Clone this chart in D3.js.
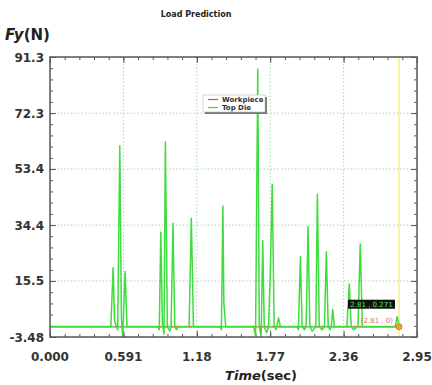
<!DOCTYPE html>
<html><head><meta charset="utf-8">
<script src="https://cdn.jsdelivr.net/npm/d3@7"></script>
<style>body{margin:0;background:#fff}svg{display:block}</style>
</head><body>
<script>
const title = "Load Prediction";
const xTickValues = [0, 0.591, 1.182, 1.773, 2.364, 2.955];
const xTickLabels = ["0.000", "0.591", "1.18", "1.77", "2.36", "2.95"];
const yTickValues = [-3.48, 15.5, 34.4, 53.4, 72.3, 91.3];
const yTickLabels = ["-3.48", "15.5", "34.4", "53.4", "72.3", "91.3"];
const seriesNames = ["Workpiece", "Top Die"];
const topDieTime = [0,0.47,0.49,0.508,0.52,0.545,0.562,0.575,0.585,0.605,0.62,
  0.87,0.88,0.892,0.905,0.918,0.929,0.945,0.965,0.975,0.99,1.005,1.02,1.03,
  1.12,1.138,1.155,1.37,1.38,1.392,1.40,1.415,
  1.64,1.655,1.673,1.685,1.70,1.713,1.725,1.745,1.76,1.775,1.789,1.805,1.82,1.84,1.855,
  1.99,2.0,2.016,2.03,2.05,2.062,2.078,2.092,2.11,2.14,2.153,2.168,2.19,2.21,2.225,2.24,2.255,2.265,2.276,2.29,
  2.39,2.41,2.425,2.445,2.48,2.498,2.515,2.78,2.795,2.81];
const topDieForce = [0,0,0,20,2,-1,61.3,3,-3.4,18.6,0,
  0,-1,32,1,-2.5,62.6,0,-1.5,0,35,0,-1,0,
  0,36.7,0,0,-1,40.9,8,0,
  0,-3,87.2,0,-3.4,29.1,0,-2,0,20,48.2,0,-1,3,0,
  0,-1,23.7,0,-1,0,33.9,0,-1.5,0,44.8,0,-1,0,25.4,0,-1,0,5.9,0,
  0,14.5,0,-1,0,28,0,0,3.4,0.271];
const workpieceStart = [0.47, 0.87, 1.12, 1.64, 1.99, 2.39];
const workpieceEnd   = [0.62, 1.03, 1.16, 1.86, 2.29, 2.52];
const cursorTime = 2.81, cursorForce = 0.271, cursorWork = 0;

const W = 432, H = 385;
const svg = d3.select("body").append("svg").attr("width", W).attr("height", H)
  .style("font-family", "'DejaVu Sans', sans-serif");
const L = 50, R = 417, T = 57, B = 337;
const x = d3.scaleLinear().domain([0, 2.955]).range([L, R]);
const y = d3.scaleLinear().domain([-3.48, 91.3]).range([B, T]);

// grid
const gridC = "#a8dca8";
svg.append("g").selectAll("line").data(xTickValues.slice(1, -1)).join("line")
  .attr("x1", d => x(d)).attr("x2", d => x(d)).attr("y1", T).attr("y2", B)
  .attr("stroke", gridC).attr("stroke-width", 1).attr("stroke-dasharray", "1.5,2");
svg.append("g").selectAll("line").data(yTickValues.slice(1, -1)).join("line")
  .attr("y1", d => y(d)).attr("y2", d => y(d)).attr("x1", L).attr("x2", R)
  .attr("stroke", gridC).attr("stroke-width", 1).attr("stroke-dasharray", "1.5,2");

// minor ticks
const xMinor = d3.range(0, 26).map(i => i * 2.955 / 25);
const yMinor = d3.range(0, 26).map(i => -3.48 + i * (91.3 + 3.48) / 25);
const tickC = "#555";
const axisG = svg.append("g");
axisG.append("g").call(d3.axisBottom(x).tickValues(xMinor).tickSize(-3).tickFormat(""))
  .attr("transform", `translate(0,${B})`);
axisG.append("g").call(d3.axisTop(x).tickValues(xMinor).tickSize(-3).tickFormat(""))
  .attr("transform", `translate(0,${T})`);
axisG.append("g").call(d3.axisLeft(y).tickValues(yMinor).tickSize(-3).tickFormat(""))
  .attr("transform", `translate(${L},0)`);
axisG.append("g").call(d3.axisRight(y).tickValues(yMinor).tickSize(-3).tickFormat(""))
  .attr("transform", `translate(${R},0)`);
axisG.append("g").call(d3.axisBottom(x).tickValues(xTickValues).tickSize(-6).tickFormat(""))
  .attr("transform", `translate(0,${B})`);
axisG.append("g").call(d3.axisTop(x).tickValues(xTickValues).tickSize(-6).tickFormat(""))
  .attr("transform", `translate(0,${T})`);
axisG.append("g").call(d3.axisLeft(y).tickValues(yTickValues).tickSize(-6).tickFormat(""))
  .attr("transform", `translate(${L},0)`);
axisG.append("g").call(d3.axisRight(y).tickValues(yTickValues).tickSize(-6).tickFormat(""))
  .attr("transform", `translate(${R},0)`);
axisG.selectAll(".domain").remove();
axisG.selectAll("line").attr("stroke", tickC).attr("stroke-width", 1);

// yellow cursor
svg.append("line").attr("x1", x(cursorTime)).attr("x2", x(cursorTime)).attr("y1", T).attr("y2", B)
  .attr("stroke", "#f2ea70").attr("stroke-width", 1.2);

// baseline (top die zero level)
svg.append("line").attr("x1", x(0)).attr("x2", x(cursorTime)).attr("y1", y(0)).attr("y2", y(0))
  .attr("stroke", "#6ade6a").attr("stroke-width", 2);

// workpiece
svg.append("g").selectAll("line").data(workpieceStart).join("line")
  .attr("x1", d => x(d)).attr("x2", (d, i) => x(workpieceEnd[i]))
  .attr("y1", y(0)).attr("y2", y(0))
  .attr("stroke", "#d2783c").attr("stroke-width", 1.2).attr("stroke-dasharray", "3,3");

// top die
const pts = topDieTime.map((t, i) => [t, topDieForce[i]]);
svg.append("path").datum(pts)
  .attr("d", d3.line().x(d => x(d[0])).y(d => y(d[1])))
  .attr("fill", "none").attr("stroke", "#3ddd3d").attr("stroke-width", 1.5)
  .attr("stroke-linejoin", "round");

// cursor marker
svg.append("circle").attr("cx", x(cursorTime)).attr("cy", y(cursorWork)).attr("r", 3)
  .attr("fill", "#f0a030").attr("stroke", "#e08020");

// tooltip
const tx = x(cursorTime), ty = y(0);
svg.append("rect").attr("x", tx - 51).attr("y", ty - 27).attr("width", 47).attr("height", 9)
  .attr("fill", "#111");
svg.append("text").attr("x", tx - 27.5).attr("y", ty - 20).attr("text-anchor", "middle")
  .attr("font-size", 7).attr("fill", "#5fe05f").text(`${cursorTime} , ${cursorForce}`);
svg.append("text").attr("x", tx - 6).attr("y", ty - 4).attr("text-anchor", "end")
  .attr("font-size", 7).attr("fill", "#e07070").text(`(${cursorTime} , ${cursorWork})`);

// frame
svg.append("rect").attr("x", L).attr("y", T).attr("width", R - L).attr("height", B - T)
  .attr("fill", "none").attr("stroke", "#555").attr("stroke-width", 1.5);

// legend
const lg = svg.append("g").attr("transform", "translate(203,95)");
lg.append("rect").attr("x", 2).attr("y", 2).attr("width", 62).attr("height", 17).attr("fill", "#777");
lg.append("rect").attr("x", 0).attr("y", 0).attr("width", 62).attr("height", 17)
  .attr("fill", "#fff").attr("stroke", "#bbb").attr("stroke-width", 0.6);
const legC = ["#dd4444", "#33dd33"];
seriesNames.forEach((n, i) => {
  lg.append("line").attr("x1", 5).attr("x2", 15).attr("y1", 4.5 + i * 8).attr("y2", 4.5 + i * 8)
    .attr("stroke", legC[i]).attr("stroke-width", 1.2);
  lg.append("text").attr("x", 19).attr("y", 7 + i * 8).attr("font-size", 7)
    .attr("font-weight", "bold").attr("fill", "#333").text(n);
});

// tick labels
svg.append("g").selectAll("text").data(xTickValues).join("text")
  .attr("x", d => x(d)).attr("y", 361).attr("text-anchor", "middle")
  .attr("font-size", 12).attr("font-weight", "bold").attr("fill", "#333")
  .text((d, i) => xTickLabels[i]);
svg.append("g").selectAll("text").data(yTickValues).join("text")
  .attr("x", 44).attr("y", d => y(d) + 4.5).attr("text-anchor", "end")
  .attr("font-size", 12).attr("font-weight", "bold").attr("fill", "#333")
  .text((d, i) => yTickLabels[i]);

// titles
svg.append("text").attr("x", 196).attr("y", 17).attr("text-anchor", "middle")
  .attr("font-size", 8).attr("font-weight", "bold").attr("fill", "#222").text(title);
const yl = svg.append("text").attr("x", 5).attr("y", 40).attr("font-size", 15)
  .attr("font-weight", "bold").attr("fill", "#222");
yl.append("tspan").attr("font-style", "italic").text("Fy");
yl.append("tspan").text("(N)");
const xl = svg.append("text").attr("x", 261).attr("y", 380).attr("text-anchor", "middle")
  .attr("font-size", 13).attr("font-weight", "bold").attr("fill", "#222");
xl.append("tspan").attr("font-style", "italic").text("Time");
xl.append("tspan").text("(sec)");
</script>
</body></html>
